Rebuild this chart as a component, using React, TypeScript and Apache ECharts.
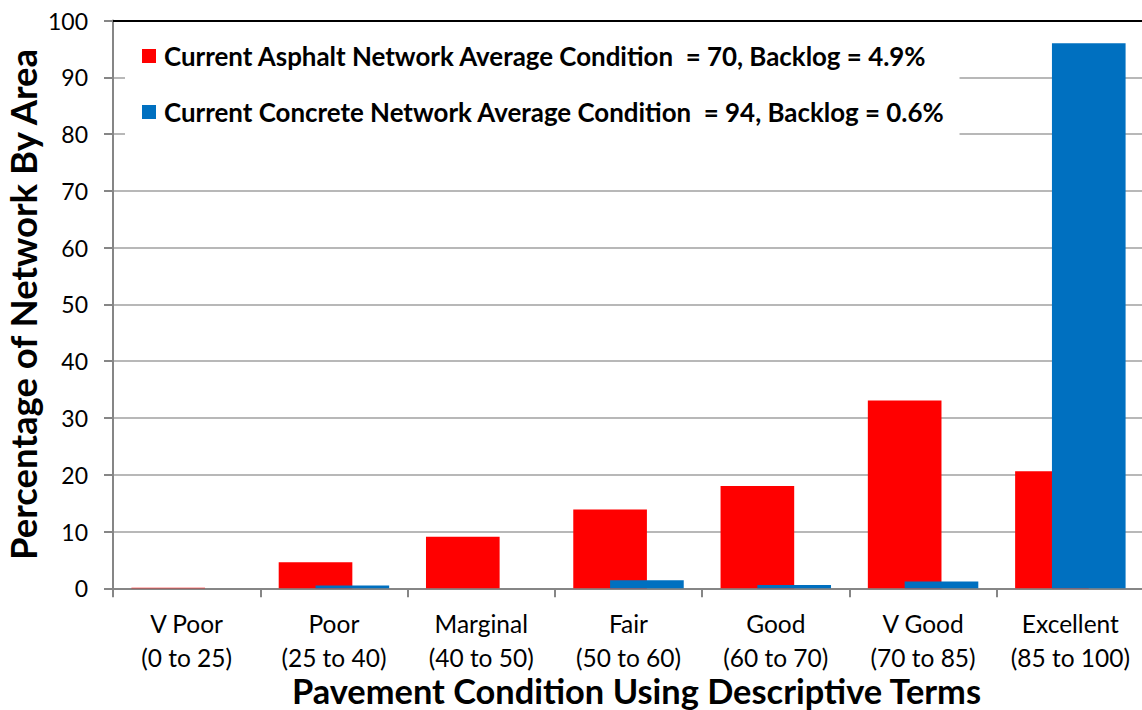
import React, { useEffect, useRef } from "react";
import * as echarts from "echarts";

const categories = [
  "V Poor\n(0 to 25)",
  "Poor\n(25 to 40)",
  "Marginal\n(40 to 50)",
  "Fair\n(50 to 60)",
  "Good\n(60 to 70)",
  "V Good\n(70 to 85)",
  "Excellent\n(85 to 100)",
];
const asphaltValues = [0.1, 4.6, 9.1, 13.9, 18.0, 33.1, 20.6];
const concreteValues = [0, 0.5, 0, 1.4, 0.6, 1.2, 96.0];
const asphaltName = "Current Asphalt Network Average Condition  = 70, Backlog = 4.9%";
const concreteName = "Current Concrete Network Average Condition  = 94, Backlog = 0.6%";
const yTitle = "Percentage of Network By Area";
const xTitle = "Pavement Condition Using Descriptive Terms";

const FONT = "Lato";

export default function App() {
  const ref = useRef<HTMLDivElement>(null);
  useEffect(() => {
    if (!ref.current) return;
    const chart = echarts.init(ref.current, null, { renderer: "svg" });
    chart.setOption({
      animation: false,
      backgroundColor: "#ffffff",
      textStyle: { fontFamily: FONT },
      grid: {
        left: 113,
        top: 20.6,
        width: 1031,
        height: 567.7,
        containLabel: false,
        outerBoundsMode: "none",
      },
      legend: {
        orient: "vertical",
        left: 125,
        top: 30,
        padding: [13, 15, 18, 17],
        backgroundColor: "#ffffff",
        itemWidth: 14,
        itemHeight: 14,
        itemGap: 30,
        icon: "rect",
        textStyle: {
          fontFamily: FONT,
          fontWeight: "bold",
          fontSize: 25.9,
          color: "#000",
          padding: [0, 0, 0, 3],
        },
        data: [asphaltName, concreteName],
      },
      xAxis: [
        {
          type: "category",
          data: categories,
          position: "bottom",
          axisLine: { lineStyle: { color: "#868686", width: 2 } },
          axisTick: { show: true, length: 9, lineStyle: { color: "#868686", width: 2 } },
          axisLabel: {
            color: "#000",
            fontFamily: FONT,
            fontSize: 24.5,
            lineHeight: 34,
            margin: 18,
            interval: 0,
          },
          name: xTitle,
          nameLocation: "middle",
          nameGap: 85,
          nameMoveOverlap: false,
          nameTextStyle: {
            color: "#000",
            fontFamily: FONT,
            fontWeight: "bold",
            fontSize: 34.4,
            padding: [0, 0, 0, 16],
          },
        },
        {
          type: "category",
          data: categories,
          position: "top",
          axisLine: { lineStyle: { color: "#000", width: 2 } },
          axisTick: { show: false },
          axisLabel: { show: false },
        },
      ],
      yAxis: {
        type: "value",
        min: 0,
        max: 100,
        interval: 10,
        axisLine: { show: true, lineStyle: { color: "#868686", width: 2 } },
        axisTick: { show: true, length: 9, lineStyle: { color: "#868686", width: 2 } },
        splitLine: { show: true, lineStyle: { color: "#a0a0a0", width: 1.5 } },
        axisLabel: { color: "#000", fontFamily: FONT, fontSize: 23, margin: 25 },
        name: yTitle,
        nameLocation: "middle",
        nameGap: 72,
        nameMoveOverlap: false,
        nameTextStyle: { color: "#000", fontFamily: FONT, fontWeight: "bold", fontSize: 36.5 },
      },
      series: [
        {
          name: asphaltName,
          type: "bar",
          data: asphaltValues,
          barWidth: "50%",
          barGap: "-50%",
          itemStyle: { color: "#ff0000" },
        },
        {
          name: concreteName,
          type: "bar",
          data: concreteValues,
          barWidth: "50%",
          barGap: "-50%",
          itemStyle: { color: "#0070c0" },
        },
      ],
    });
    return () => chart.dispose();
  }, []);
  return (
    <div
      ref={ref}
      style={{ position: "fixed", left: 0, top: 0, width: 1142, height: 710 }}
    />
  );
}
